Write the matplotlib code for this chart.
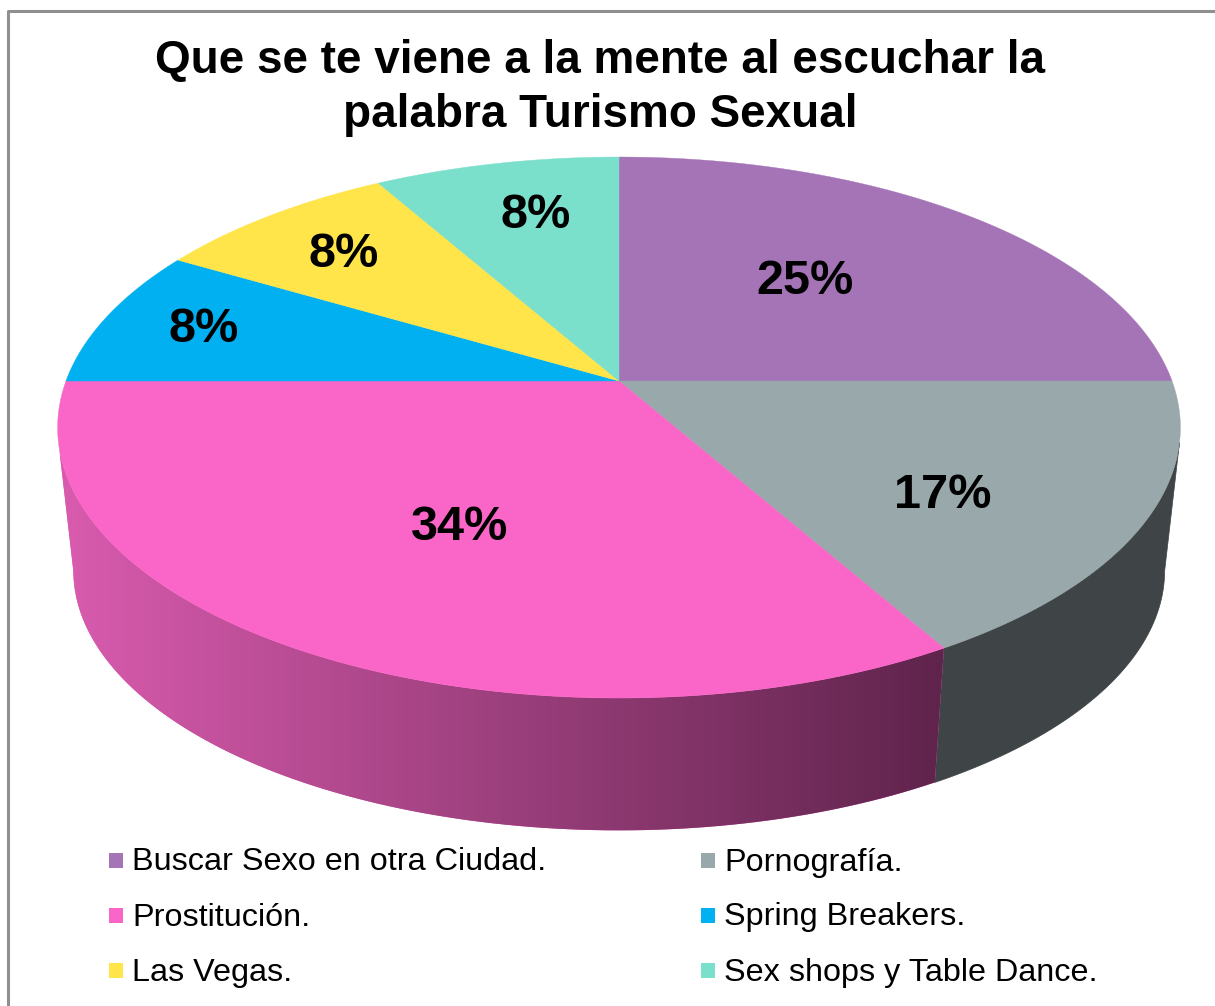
import numpy as np
from matplotlib import pyplot as plt
from matplotlib.colors import LinearSegmentedColormap

title = "Que se te viene a la mente al escuchar la\npalabra Turismo Sexual"
categories = ["Buscar Sexo en otra Ciudad.", "Pornografía.", "Prostitución.",
              "Spring Breakers.", "Las Vegas.", "Sex shops y Table Dance."]
counts = [3, 2, 4, 1, 1, 1]
pct_labels = ["25%", "17%", "34%", "8%", "8%", "8%"]
colors = ["#A474B6", "#99A8AB", "#F966C8", "#00B0F0", "#FFE54A", "#7ADFCB"]
label_pos = [(805, 282), (943, 495), (460, 527), (204, 330), (344, 254), (536, 215)]

plt.rcParams['font.family'] = ['Liberation Sans', 'DejaVu Sans']

# perspective of the disc, in pixels
P = 0.172


def project(deg, cy, r, k):
    a = np.radians(deg)
    w = 1 + P * np.cos(a)
    return 619 + r * np.sin(a) / w, cy - k * np.cos(a) / w


def top(deg):
    return project(deg, 381, 553, 262.5)


def bottom(deg):
    return project(deg, 526, 537.5, 252)


def side_poly(a0, a1, b0, b1):
    # top rim a0->a1, then back along the bottom rim b1->b0
    tx, ty = top(np.linspace(a0, a1, 100))
    bx, by = bottom(np.linspace(b1, b0, 100))
    return np.r_[tx, bx], np.r_[ty, by]


fig = plt.figure(figsize=(12.15, 10.06), dpi=100)
ax = fig.add_axes([0, 0, 1, 1])
ax.set_xlim(0, 1215)
ax.set_ylim(1006, 0)
ax.axis("off")

# frame is only visible on the top and the left
ax.plot([7.5, 7.5, 1215], [1006, 10.5, 10.5], color="#8F8F8F", lw=2.2)

ends = np.cumsum(counts) / np.sum(counts) * 360
starts = np.r_[0, ends[:-1]]

# side walls
x, y = side_poly(103, starts[2], 100, starts[2])
ax.fill(x, y, color="#3F4446", lw=0.5)
x, y = side_poly(starts[2], 257, starts[2], 260)
poly = ax.fill(x, y, color="#D95BAE", lw=0)[0]
grad = LinearSegmentedColormap.from_list("side", ["#D95BAE", "#5F244C"])
im = ax.imshow(np.linspace(0, 1, 256)[None, :], cmap=grad, aspect="auto",
               extent=[60, 945, 850, 400], zorder=2)
im.set_clip_path(poly)
ax.set_xlim(0, 1215)
ax.set_ylim(1006, 0)

# top of the pie
for s, e, c in zip(starts, ends, colors):
    tx, ty = top(np.linspace(s, e, 150))
    ax.fill(np.r_[619, tx], np.r_[381, ty], color=c, lw=0.3, zorder=3)

for (lx, ly), t in zip(label_pos, pct_labels):
    ax.text(lx, ly, t, fontsize=35, fontweight="bold", ha="center", va="center", zorder=4)

ax.text(600, 88, title, fontsize=33, fontweight="bold", ha="center", va="center",
        linespacing=1.3, zorder=4)

# legend, filled row by row
leg_x = [109, 701]
leg_y = [860, 915, 970]
for i, (name, c) in enumerate(zip(categories, colors)):
    lx, ly = leg_x[i % 2], leg_y[i // 2]
    ax.fill([lx, lx + 14, lx + 14, lx], [ly - 7, ly - 7, ly + 8, ly + 8], color=c, lw=0, zorder=4)
    ax.text(lx + 23, ly + 2.5, name, fontsize=23.3, ha="left", va="center", zorder=4)

fig.savefig("out.png", dpi=100)
